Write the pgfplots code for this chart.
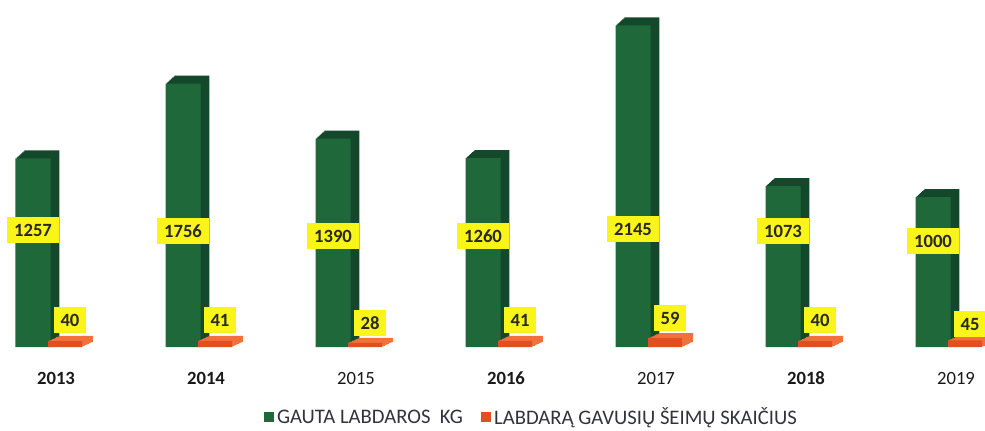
\documentclass[border=0pt]{standalone}
\usepackage{pgfplots}
\pgfplotsset{compat=1.18}
\usepackage{pgfplotstable}
\usepackage{fontspec}
\setmainfont{Carlito}
\definecolor{greenfront}{RGB}{30,104,58}
\definecolor{greenside}{RGB}{20,72,42}
\definecolor{orangefront}{RGB}{224,78,34}
\definecolor{orangetop}{RGB}{242,112,60}
\definecolor{labelyellow}{RGB}{250,245,25}
\definecolor{valtext}{RGB}{40,40,40}
\definecolor{legtext}{RGB}{50,50,62}

\pgfplotstableread{
x year kg fam gly fly
0 2013 1257 40 780 180
1 2014 1756 41 773 180
2 2015 1390 28 740 160
3 2016 1260 41 740 180
4 2017 2145 59 787 193
5 2018 1073 40 773 180
6 2019 1000 45 707 153
}\data

\begin{document}
\begin{tikzpicture}
\begin{axis}[
  scale only axis,
  width=738.75pt, height=260.25pt,
  xmin=-0.37333, xmax=6.19333,
  ymin=0, ymax=2313.33,
  enlargelimits=false,
  clip=false,
  hide y axis,
  axis x line*=bottom,
  x axis line style={draw=none},
  xtick style={draw=none},
  xtick={0,1,2,3,4,5,6},
  xticklabels={\textbf{2013},\textbf{2014},2015,\textbf{2016},2017,\textbf{2018},2019},
  xticklabel style={anchor=center, yshift=-23.25pt, font=\fontsize{14}{16}\selectfont, text=black!90},
  legend columns=2,
  legend style={draw=none, fill=none, at={(0.540,-0.203)}, anchor=center,
    font=\fontsize{15.5}{17}\selectfont, text=legtext,
    /tikz/every even column/.append style={column sep=12pt}},
  legend image code/.code={\fill[#1] (0pt,-3.75pt) rectangle (7.5pt,3.75pt);},
]
% green series: depth copies then front
\pgfplotsinvokeforeach{8,7,6,5,4,3,2,1}{
\addplot[ybar, bar width=26.25pt, bar shift=-17.25pt, draw=none, fill=greenside, forget plot, xshift=0.84pt*#1, yshift=0.75pt*#1] table[x=x,y=kg]{\data};
}
\addplot[ybar, bar width=26.25pt, bar shift=-17.25pt, draw=none, fill=greenfront] table[x=x,y=kg]{\data};
\addlegendentry{GAUTA LABDAROS\ \ KG}
% orange series
\pgfplotsinvokeforeach{8,7,6,5,4,3,2,1}{
\addplot[ybar, bar width=25.5pt, bar shift=6.75pt, draw=none, fill=orangetop, forget plot, xshift=1.03pt*#1, yshift=0.47pt*#1] table[x=x,y=fam]{\data};
}
\addplot[ybar, bar width=25.5pt, bar shift=6.75pt, draw=none, fill=orangefront] table[x=x,y=fam]{\data};
\addlegendentry{LABDARĄ GAVUSIŲ ŠEIMŲ SKAIČIUS}
% value labels
\addplot[only marks, mark=*, mark size=0pt, mark options={draw=none, fill=none}, forget plot,
  point meta=explicit symbolic, nodes near coords,
  every node near coord/.style={anchor=center, fill=labelyellow, text=valtext,
    font=\fontsize{14}{16}\selectfont\bfseries, inner xsep=5pt, inner ysep=0pt,
    minimum height=20pt}]
  table[x expr=\thisrow{x}-0.1533, y=gly, meta=kg]{\data};
\addplot[only marks, mark=*, mark size=0pt, mark options={draw=none, fill=none}, forget plot,
  point meta=explicit symbolic, nodes near coords,
  every node near coord/.style={anchor=center, fill=labelyellow, text=valtext,
    font=\fontsize{14}{16}\selectfont\bfseries, inner xsep=5pt, inner ysep=0pt,
    minimum height=20pt}]
  table[x expr=\thisrow{x}+0.0933, y=fly, meta=fam]{\data};
\end{axis}
\pgfresetboundingbox
\path (0,-62.25pt) rectangle (738.75pt,260.25pt);
\end{tikzpicture}
\end{document}
